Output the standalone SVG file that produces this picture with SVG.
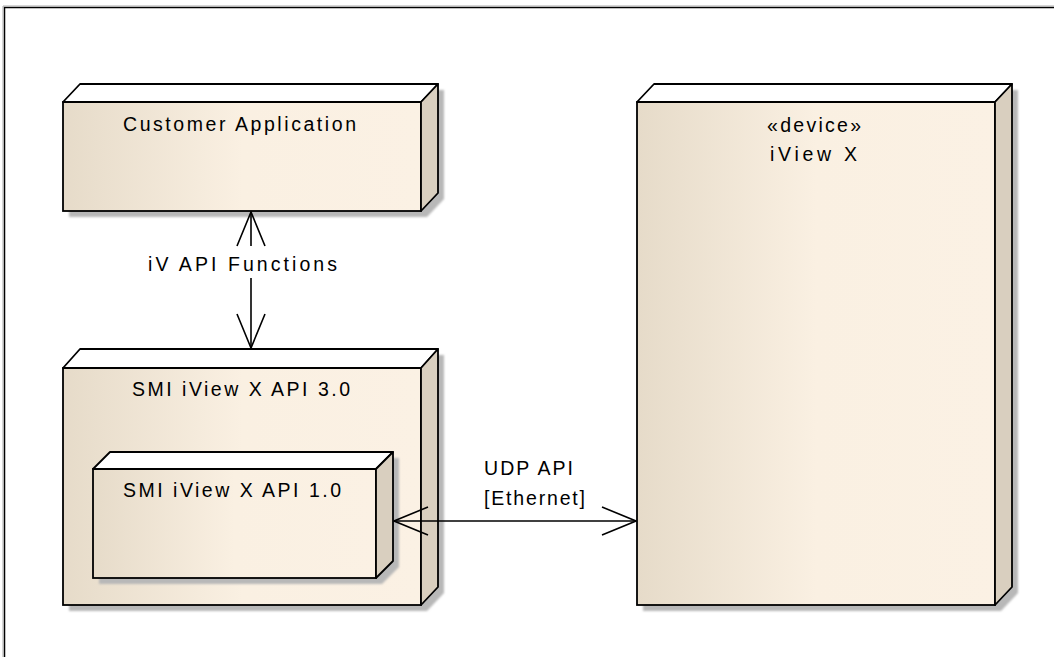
<svg xmlns="http://www.w3.org/2000/svg" width="1054" height="657" viewBox="0 0 1054 657">
<defs>
<linearGradient id="front" x1="0" y1="0" x2="1" y2="0">
<stop offset="0" stop-color="#e6dbc9"/>
<stop offset="0.5" stop-color="#faf0e2"/>
<stop offset="1" stop-color="#fbf1e4"/>
</linearGradient>
<filter id="blur" x="-10%" y="-10%" width="120%" height="120%"><feGaussianBlur stdDeviation="0.8"/></filter>
<marker id="open" viewBox="0 0 36 30" refX="35" refY="15" markerWidth="36" markerHeight="30" markerUnits="userSpaceOnUse" orient="auto-start-reverse">
<path d="M1 1 L35 15 L1 29" fill="none" stroke="#000" stroke-width="1.6"/>
</marker>
</defs>
<style>
.shadow{fill:#b8b8b8;filter:url(#blur)}
.front{fill:url(#front);stroke:#000;stroke-width:1.8}
.top{fill:#ffffff;stroke:#000;stroke-width:1.8;stroke-linejoin:round}
.side{fill:#d9cfbf;stroke:#000;stroke-width:1.8;stroke-linejoin:round}
.t{font-family:"Liberation Sans",Arial,sans-serif;font-size:19.5px;fill:#000}
.conn{fill:none;stroke:#000;stroke-width:1.6}
</style>
<rect x="0" y="0" width="1054" height="657" fill="#fff"/>
<path d="M4.5 657 V7.5 H1054" fill="none" stroke="#000" stroke-width="1.5"/>
<path d="M3 657 V6 H1054" fill="none" stroke="#aaa" stroke-width="1"/>

<g id="node-customer-application">
<polygon class="shadow" points="69,108 90,90 444,90 444,199 427,217 69,217"/>
<rect class="front" x="63" y="102" width="358" height="109"/>
<polygon class="top" points="63,102 80,84 438,84 421,102"/>
<polygon class="side" points="421,102 438,84 438,193 421,211"/>
<text class="t" x="123" y="131" textLength="233" lengthAdjust="spacing">Customer Application</text>
</g>

<g id="node-smi-api-30">
<polygon class="shadow" points="69,374 90,355 444,355 444,593 427,611 69,611"/>
<rect class="front" x="63" y="368" width="358" height="237"/>
<polygon class="top" points="63,368 80,349 438,349 421,368"/>
<polygon class="side" points="421,368 438,349 438,587 421,605"/>
<text class="t" x="132" y="396" textLength="218" lengthAdjust="spacing">SMI iView X API 3.0</text>
</g>

<g id="node-smi-api-10">
<polygon class="shadow" points="99,475 116,458 399,458 399,567 382,584 99,584"/>
<rect class="front" x="93" y="469" width="283" height="109"/>
<polygon class="top" points="93,469 110,452 393,452 376,469"/>
<polygon class="side" points="376,469 393,452 393,561 376,578"/>
<text class="t" x="123" y="497" textLength="218" lengthAdjust="spacing">SMI iView X API 1.0</text>
</g>

<g id="node-iview-x">
<polygon class="shadow" points="643,108 660,90 1018,90 1018,593 1001,611 643,611"/>
<rect class="front" x="637" y="102" width="358" height="503"/>
<polygon class="top" points="637,102 654,84 1012,84 995,102"/>
<polygon class="side" points="995,102 1012,84 1012,587 995,605"/>
<text class="t" x="767" y="132" textLength="94" lengthAdjust="spacing">«device»</text>
<text class="t" x="770" y="161" textLength="87" lengthAdjust="spacing">iView X</text>
</g>

<g id="connectors">
<line class="conn" x1="251" y1="246" x2="251" y2="212" marker-end="url(#open)"/>
<line class="conn" x1="251" y1="278" x2="251" y2="348" marker-end="url(#open)"/>
<text class="t" x="148" y="271" textLength="189" lengthAdjust="spacing">iV API Functions</text>
<line class="conn" x1="394" y1="521" x2="636" y2="521" marker-start="url(#open)" marker-end="url(#open)"/>
<text class="t" x="484" y="475" textLength="89" lengthAdjust="spacing">UDP API</text>
<text class="t" x="484" y="505" textLength="101" lengthAdjust="spacing">[Ethernet]</text>
</g>
</svg>
